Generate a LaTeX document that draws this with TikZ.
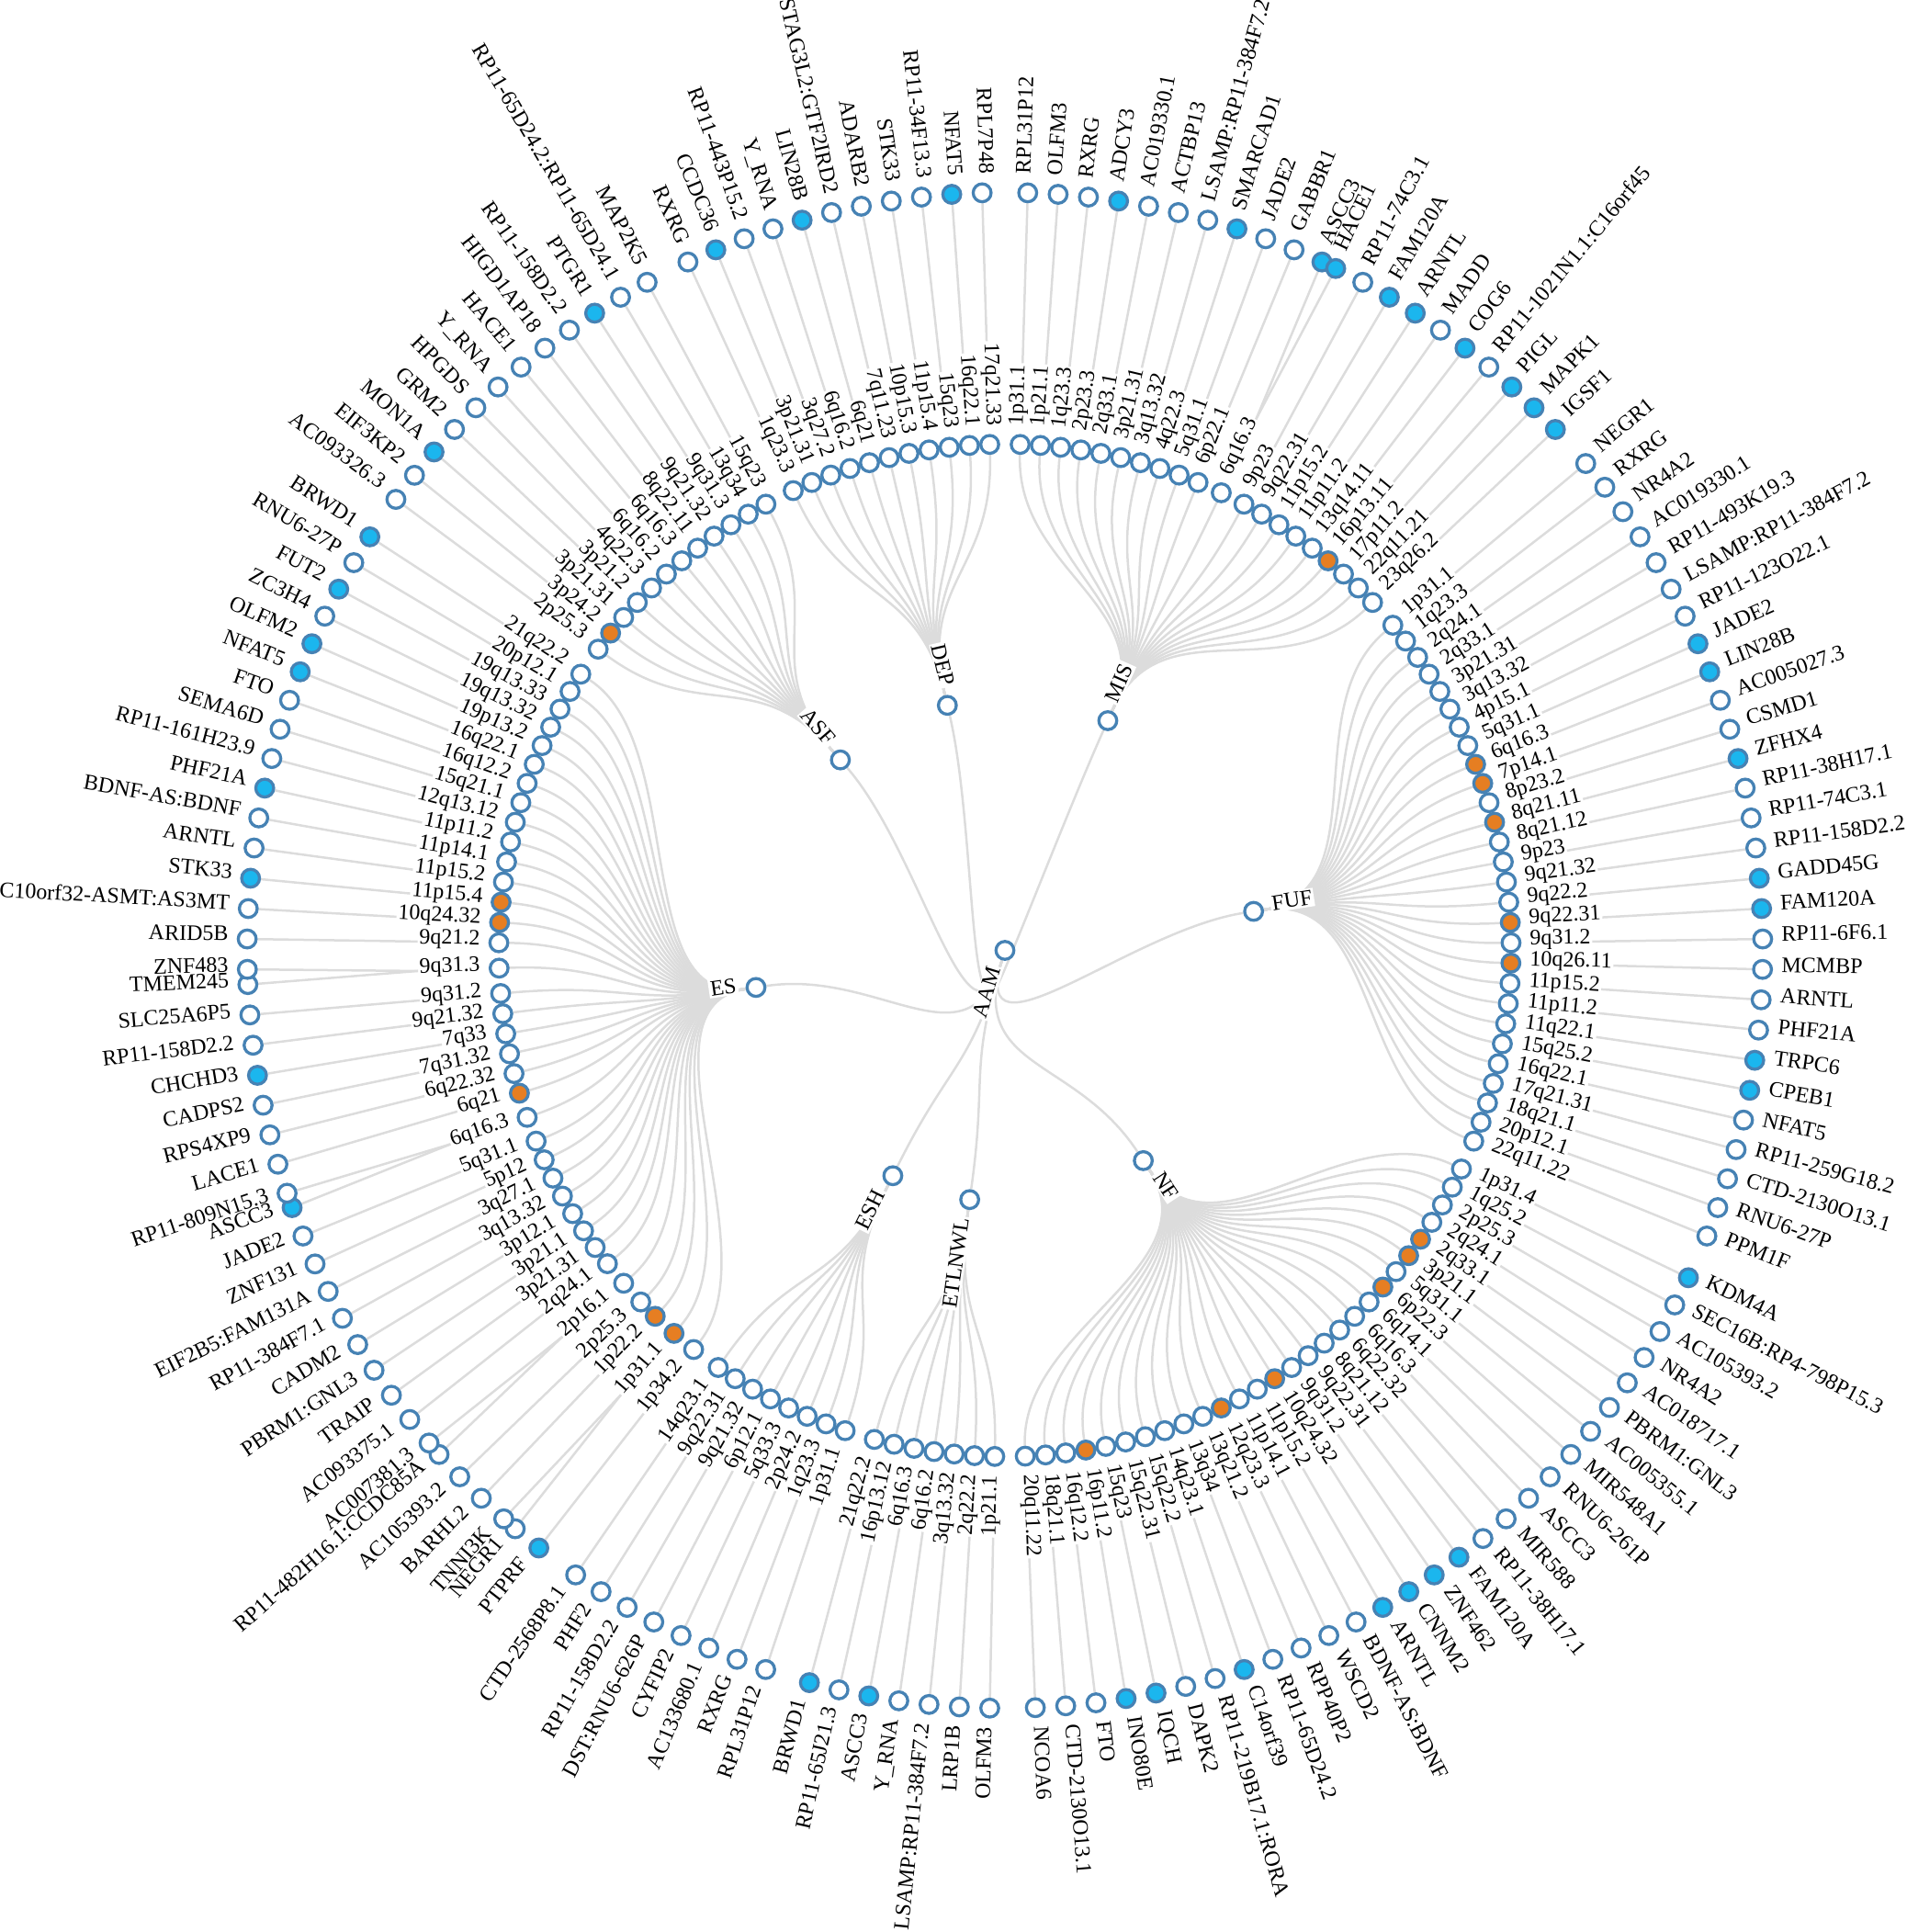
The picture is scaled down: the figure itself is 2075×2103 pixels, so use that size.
\documentclass[tikz,border=0pt]{standalone}
\usepackage{fontspec}
\setmainfont{Liberation Serif}
\pgfdeclarelayer{bg}
\pgfsetlayers{bg,main}
\definecolor{sb}{RGB}{70,130,180}
\definecolor{sky}{RGB}{27,182,238}
\definecolor{org}{RGB}{230,126,34}
\definecolor{lnk}{RGB}{220,220,220}
\tikzset{
  cnode/.style={circle,draw=sb,line width=3.3pt,minimum size=19.5pt,inner sep=0pt,fill=white},
  fw/.style={fill=white}, fb/.style={fill=sky}, fo/.style={fill=org},
  lbl/.style={font=\fontsize{24}{28}\selectfont,inner sep=1.5pt,text=black},
  halo/.style={fill=white,inner sep=2pt},
  link/.style={draw=lnk,line width=2.5pt},
}
\def\uu{2.3003195}
\def\rT{274}\def\rC{551}\def\rG{825}
\def\rootpos{85.523}
\def\dash{-}
\newcommand\placelabel[6]{%
  \pgfmathtruncatemacro\side{(#3<180)?1:0}%
  \ifnum\side=1
    \node[lbl,#6,anchor=mid west,rotate={90-#3}] (#1) at ({90-#3}:{#4+19}) {#5};
    \coordinate (#2) at (#1.mid east);
  \else
    \node[lbl,#6,anchor=mid east,rotate={270-#3}] (#1) at ({90-#3}:{#4+19}) {#5};
    \coordinate (#2) at (#1.mid west);
  \fi}
\newcommand\gene[4]{%
  \pgfmathsetmacro\gang{(#2)*\uu}%
  \node[cnode,#4] (#1) at ({90-\gang}:\rG) {};
  \placelabel{#1L}{#1E}{\gang}{\rG}{#3}{}%
}
\newcommand\grp[4]{%
  \pgfmathsetmacro\tang{(#2)*\uu}%
  \node[cnode,fw] (#1) at ({90-\tang}:\rT) {};
  \placelabel{#1L}{#1E}{\tang}{\rT}{#1}{halo}%
  \xdef\curpos{#3}%
  \foreach \lab/\ct/\ga/\gat/\gb/\gbt [count=\i] in {#4} {%
    \ifx\gb\dash
      \pgfmathsetmacro\cpos{\curpos}%
      \pgfmathsetmacro\npos{\curpos+1}%
    \else
      \pgfmathsetmacro\cpos{\curpos+0.25}%
      \pgfmathsetmacro\npos{\curpos+1.5}%
    \fi
    \pgfmathsetmacro\cang{\cpos*\uu}%
    \node[cnode,\ct] (#1c\i) at ({90-\cang}:\rC) {};
    \placelabel{#1C\i}{#1X\i}{\cang}{\rC}{\lab}{}%
    \gene{#1ga\i}{\curpos}{\ga}{\gat}%
    \ifx\gb\dash\else
      \gene{#1gb\i}{\curpos+0.5}{\gb}{\gbt}%
    \fi
    \xdef\curpos{\npos}%
  }%
  \begin{pgfonlayer}{bg}
  \draw[link] (AAM) .. controls ({90-\rootang}:137) and ({90-\tang}:137) .. (#1);
  \xdef\curpos{#3}%
  \foreach \lab/\ct/\ga/\gat/\gb/\gbt [count=\i] in {#4} {%
    \ifx\gb\dash
      \pgfmathsetmacro\cpos{\curpos}%
      \pgfmathsetmacro\npos{\curpos+1}%
    \else
      \pgfmathsetmacro\cpos{\curpos+0.25}%
      \pgfmathsetmacro\npos{\curpos+1.5}%
    \fi
    \pgfmathsetmacro\cang{\cpos*\uu}%
    \draw[link] (#1) .. controls ({90-\tang}:412.5) and ({90-\cang}:412.5) .. (#1c\i);
    \draw[link] (#1X\i) -- (#1ga\i);
    \ifx\gb\dash\else
      \draw[link] (#1X\i) -- (#1gb\i);
    \fi
    \xdef\curpos{\npos}%
  }%
  \end{pgfonlayer}
}
\begin{document}
\begin{tikzpicture}[x=1pt,y=1pt]
\useasboundingbox (-1094,-1068.5) rectangle (981,1034.5);
\pgfmathsetmacro\rootang{\rootpos*\uu}
\node[cnode,fw] (AAM) at (0,0) {};
\placelabel{AAML}{AAME}{\rootang}{0}{AAM}{halo}

\grp{MIS}{10.4875}{0.75}{1p31.1/fw/RPL31P12/fw/-/-,1p21.1/fw/OLFM3/fw/-/-,1q23.3/fw/RXRG/fw/-/-,2p23.3/fw/ADCY3/fb/-/-,2q33.1/fw/AC019330.1/fw/-/-,3p21.31/fw/ACTBP13/fw/-/-,3q13.32/fw/LSAMP:RP11-384F7.2/fw/-/-,4q22.3/fw/SMARCAD1/fb/-/-,5q31.1/fw/JADE2/fw/-/-,6p22.1/fw/GABBR1/fw/-/-,6q16.3/fw/ASCC3/fb/HACE1/fb,9p23/fw/RP11-74C3.1/fw/-/-,9q22.31/fw/FAM120A/fb/-/-,11p15.2/fw/ARNTL/fb/-/-,11p11.2/fw/MADD/fw/-/-,13q14.11/fw/COG6/fb/-/-,16p13.11/fo/RP11-1021N1.1:C16orf45/fw/-/-,17p11.2/fw/PIGL/fb/-/-,22q11.21/fw/MAPK1/fb/-/-,23q26.2/fw/IGSF1/fb/-/-}

\grp{FUF}{35.25}{21.75}{1p31.1/fw/NEGR1/fw/-/-,1q23.3/fw/RXRG/fw/-/-,2q24.1/fw/NR4A2/fw/-/-,2q33.1/fw/AC019330.1/fw/-/-,3p21.31/fw/RP11-493K19.3/fw/-/-,3q13.32/fw/LSAMP:RP11-384F7.2/fw/-/-,4p15.1/fw/RP11-123O22.1/fw/-/-,5q31.1/fw/JADE2/fb/-/-,6q16.3/fo/LIN28B/fb/-/-,7p14.1/fo/AC005027.3/fw/-/-,8p23.2/fw/CSMD1/fw/-/-,8q21.11/fo/ZFHX4/fb/-/-,8q21.12/fw/RP11-38H17.1/fw/-/-,9p23/fw/RP11-74C3.1/fw/-/-,9q21.32/fw/RP11-158D2.2/fw/-/-,9q22.2/fw/GADD45G/fb/-/-,9q22.31/fo/FAM120A/fb/-/-,9q31.2/fw/RP11-6F6.1/fw/-/-,10q26.11/fo/MCMBP/fw/-/-,11p15.2/fw/ARNTL/fw/-/-,11p11.2/fw/PHF21A/fw/-/-,11q22.1/fw/TRPC6/fb/-/-,15q25.2/fw/CPEB1/fb/-/-,16q22.1/fw/NFAT5/fw/-/-,17q21.31/fw/RP11-259G18.2/fw/-/-,18q21.1/fw/CTD-2130O13.1/fw/-/-,20p12.1/fw/RNU6-27P/fw/-/-,22q11.22/fw/PPM1F/fw/-/-}

\grp{NF}{63.75}{50.25}{1p31.4/fw/KDM4A/fb/-/-,1q25.2/fw/SEC16B:RP4-798P15.3/fw/-/-,2p25.3/fw/AC105393.2/fw/-/-,2q24.1/fw/NR4A2/fw/-/-,2q33.1/fo/AC018717.1/fw/-/-,3p21.1/fo/PBRM1:GNL3/fw/-/-,5q31.1/fw/AC005355.1/fw/-/-,6p22.3/fo/MIR548A1/fw/-/-,6q14.1/fw/RNU6-261P/fw/-/-,6q16.3/fw/ASCC3/fw/-/-,6q22.32/fw/MIR588/fw/-/-,8q21.12/fw/RP11-38H17.1/fw/-/-,9q22.31/fw/FAM120A/fb/-/-,9q31.2/fw/ZNF462/fb/-/-,10q24.32/fo/CNNM2/fb/-/-,11p15.2/fw/ARNTL/fb/-/-,11p14.1/fw/BDNF-AS:BDNF/fw/-/-,12q23.3/fo/WSCD2/fw/-/-,13q21.2/fw/RPP40P2/fw/-/-,13q34/fw/RP11-65D24.2/fw/-/-,14q23.1/fw/C14orf39/fb/-/-,15q22.2/fw/RP11-219B17.1:RORA/fw/-/-,15q22.31/fw/DAPK2/fw/-/-,15q23/fw/IQCH/fb/-/-,16p11.2/fo/INO80E/fb/-/-,16q12.2/fw/FTO/fw/-/-,18q21.1/fw/CTD-2130O13.1/fw/-/-,20q11.22/fw/NCOA6/fw/-/-}

\grp{ETLNWL}{81.75}{78.75}{1p21.1/fw/OLFM3/fw/-/-,2q22.2/fw/LRP1B/fw/-/-,3q13.32/fw/LSAMP:RP11-384F7.2/fw/-/-,6q16.2/fw/Y\_RNA/fw/-/-,6q16.3/fw/ASCC3/fb/-/-,16p13.12/fw/RP11-65J21.3/fw/-/-,21q22.2/fw/BRWD1/fb/-/-}

\grp{ESH}{89.75}{86.25}{1p31.1/fw/RPL31P12/fw/-/-,1q23.3/fw/RXRG/fw/-/-,2p24.2/fw/AC133680.1/fw/-/-,5q33.3/fw/CYFIP2/fw/-/-,6p12.1/fw/DST:RNU6-626P/fw/-/-,9q21.32/fw/RP11-158D2.2/fw/-/-,9q22.31/fw/PHF2/fw/-/-,14q23.1/fw/CTD-2568P8.1/fw/-/-}

\grp{ES}{113.694}{94.75}{1p34.2/fw/PTPRF/fb/-/-,1p31.1/fo/NEGR1/fw/TNNI3K/fw,1p22.2/fo/BARHL2/fw/-/-,2p25.3/fw/AC105393.2/fw/-/-,2p16.1/fw/RP11-482H16.1:CCDC85A/fw/AC007381.3/fw,2q24.1/fw/AC093375.1/fw/-/-,3p21.31/fw/TRAIP/fw/-/-,3p21.1/fw/PBRM1:GNL3/fw/-/-,3p12.1/fw/CADM2/fw/-/-,3q13.32/fw/RP11-384F7.1/fw/-/-,3q27.1/fw/EIF2B5:FAM131A/fw/-/-,5p12/fw/ZNF131/fw/-/-,5q31.1/fw/JADE2/fw/-/-,6q16.3/fw/ASCC3/fb/RP11-809N15.3/fw,6q21/fo/LACE1/fw/-/-,6q22.32/fw/RPS4XP9/fw/-/-,7q31.32/fw/CADPS2/fw/-/-,7q33/fw/CHCHD3/fb/-/-,9q21.32/fw/RP11-158D2.2/fw/-/-,9q31.2/fw/SLC25A6P5/fw/-/-,9q31.3/fw/TMEM245/fw/ZNF483/fw,9q21.2/fw/ARID5B/fw/-/-,10q24.32/fo/C10orf32-ASMT:AS3MT/fw/-/-,11p15.4/fo/STK33/fb/-/-,11p15.2/fw/ARNTL/fw/-/-,11p14.1/fw/BDNF-AS:BDNF/fw/-/-,11p11.2/fw/PHF21A/fb/-/-,12q13.12/fw/RP11-161H23.9/fw/-/-,15q21.1/fw/SEMA6D/fw/-/-,16q12.2/fw/FTO/fw/-/-,16q22.1/fw/NFAT5/fb/-/-,19p13.2/fw/OLFM2/fb/-/-,19q13.32/fw/ZC3H4/fw/-/-,19q13.33/fw/FUT2/fb/-/-,20p12.1/fw/RNU6-27P/fw/-/-,21q22.2/fw/BRWD1/fb/-/-}

\grp{ASF}{138.75}{133.25}{2p25.3/fw/AC093326.3/fw/-/-,3p24.2/fo/EIF3KP2/fw/-/-,3p21.31/fw/MON1A/fb/-/-,3p21.2/fw/GRM2/fw/-/-,4q22.3/fw/HPGDS/fw/-/-,6q16.2/fw/Y\_RNA/fw/-/-,6q16.3/fw/HACE1/fw/-/-,8q22.11/fw/HIGD1AP18/fw/-/-,9q21.32/fw/RP11-158D2.2/fw/-/-,9q31.3/fw/PTGR1/fb/-/-,13q34/fw/RP11-65D24.2:RP11-65D24.1/fw/-/-,15q23/fw/MAP2K5/fw/-/-}

\grp{DEP}{150.75}{145.75}{1q23.3/fw/RXRG/fw/-/-,3p21.31/fw/CCDC36/fb/-/-,3q27.2/fw/RP11-443P15.2/fw/-/-,6q16.2/fw/Y\_RNA/fw/-/-,6q21/fw/LIN28B/fb/-/-,7q11.23/fw/STAG3L2:GTF2IRD2/fw/-/-,10p15.3/fw/ADARB2/fw/-/-,11p15.4/fw/STK33/fw/-/-,15q23/fw/RP11-34F13.3/fw/-/-,16q22.1/fw/NFAT5/fb/-/-,17q21.33/fw/RPL7P48/fw/-/-}
\end{tikzpicture}
\end{document}
